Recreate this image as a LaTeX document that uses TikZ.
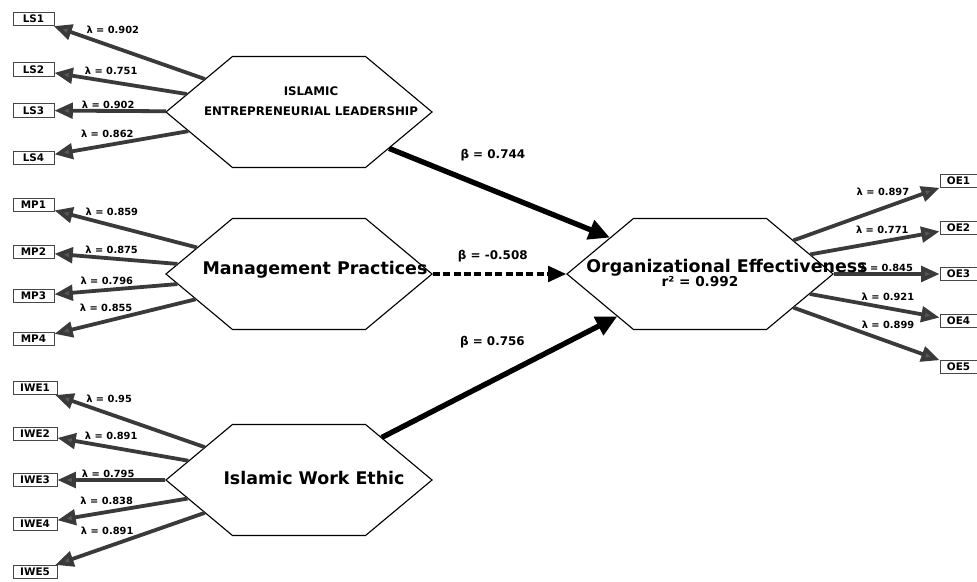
\documentclass[tikz,border=0pt]{standalone}
\usepackage{fontspec}
\setmainfont{DejaVu Sans}
\usepackage{tikz}
\usetikzlibrary{shapes.geometric, arrows.meta}

\definecolor{loadline}{RGB}{58,58,58}
\definecolor{loadtip}{RGB}{88,88,88}
\definecolor{boxline}{RGB}{70,70,70}

\tikzset{
  construct/.style = {
    regular polygon, regular polygon sides=6, draw=black, line width=0.8pt, fill=white,
    minimum size=6.65cm, inner sep=0pt, yscale=0.4819, transform shape
  },
  ctitle/.style = {font=\fontsize{12.4}{14}\selectfont\bfseries, inner sep=0pt},
  indicator/.style = {
    rectangle, draw=boxline, line width=0.7pt, fill=white,
    minimum width=1.025cm, minimum height=0.33cm, inner sep=1pt,
    font=\fontsize{7.4}{8}\selectfont\bfseries
  },
  lam/.style = {font=\fontsize{7}{8}\selectfont\bfseries, inner sep=0.5pt},
  beta/.style = {font=\fontsize{8.5}{10}\selectfont\bfseries, inner sep=0pt},
  loading/.style = {-{Triangle[length=13pt, width=11pt, fill=loadtip]}, draw=loadline, line width=2.7pt},
  effect/.style = {-{Triangle[length=15pt, width=14pt]}, line width=3.8pt},
  weakeffect/.style = {-{Triangle[length=13pt, width=11pt]}, line width=2.6pt, dash pattern=on 5pt off 2.4pt}
}

\begin{document}
\begin{tikzpicture}[x=0.025cm, y=-0.025cm]
  \useasboundingbox (0,0) rectangle (977,582);

  % Constructs
  \node[construct] (ile) at (299,112) {};
  \node[construct] (mp)  at (299,274) {};
  \node[construct] (iwe) at (299,480) {};
  \node[construct] (oe)  at (700,274) {};

  % Indicators
  \node[indicator] (ls1) at (33.5,19)  {LS1};
  \node[indicator] (ls2) at (33.5,69.5) {LS2};
  \node[indicator] (ls3) at (33.5,110.5) {LS3};
  \node[indicator] (ls4) at (33.5,158) {LS4};

  \node[indicator] (mp1) at (33.5,205) {MP1};
  \node[indicator] (mp2) at (33.5,252) {MP2};
  \node[indicator] (mp3) at (33.5,296) {MP3};
  \node[indicator] (mp4) at (33.5,339) {MP4};

  \node[indicator, minimum width=1.1cm] (iwe1) at (35,388) {IWE1};
  \node[indicator, minimum width=1.1cm] (iwe2) at (35,434) {IWE2};
  \node[indicator, minimum width=1.1cm] (iwe3) at (35,480) {IWE3};
  \node[indicator, minimum width=1.1cm] (iwe4) at (35,524) {IWE4};
  \node[indicator, minimum width=1.1cm] (iwe5) at (35,572) {IWE5};

  \node[indicator, minimum width=0.925cm] (oe1) at (958.5,181) {OE1};
  \node[indicator, minimum width=0.925cm] (oe2) at (958.5,228) {OE2};
  \node[indicator, minimum width=0.925cm] (oe3) at (958.5,274) {OE3};
  \node[indicator, minimum width=0.925cm] (oe4) at (958.5,321) {OE4};
  \node[indicator, minimum width=0.925cm] (oe5) at (958.5,367) {OE5};

  % Outer loadings
  \draw[loading] (ile) -- node[lam, pos=.80, anchor=south west] {λ = 0.902} (ls1);
  \draw[loading] (ile) -- node[lam, pos=.79, anchor=south west] {λ = 0.751} (ls2);
  \draw[loading] (ile) -- node[lam, pos=.52, anchor=south] {λ = 0.902} (ls3);
  \draw[loading] (ile) -- node[lam, pos=.39, anchor=south east] {λ = 0.862} (ls4);

  \draw[loading] (mp) -- node[lam, pos=.80, anchor=south west] {λ = 0.859} (mp1);
  \draw[loading] (mp) -- node[lam, pos=.77, anchor=south west] {λ = 0.875} (mp2);
  \draw[loading] (mp) -- node[lam, pos=.34, anchor=south east] {λ = 0.796} (mp3);
  \draw[loading] (mp) -- node[lam, pos=.43, anchor=south east] {λ = 0.855} (mp4);

  \draw[loading] (iwe) -- node[lam, pos=.81, anchor=south west] {λ = 0.95} (iwe1);
  \draw[loading] (iwe) -- node[lam, pos=.81, anchor=south west] {λ = 0.891} (iwe2);
  \draw[loading] (iwe) -- node[lam, pos=.53, anchor=south] {λ = 0.795} (iwe3);
  \draw[loading] (iwe) -- node[lam, pos=.40, anchor=south east] {λ = 0.838} (iwe4);
  \draw[loading] (iwe) -- node[lam, pos=.46, anchor=south east] {λ = 0.891} (iwe5);

  \draw[loading] (oe) -- node[lam, pos=.81, anchor=south east] {λ = 0.897} (oe1);
  \draw[loading] (oe) -- node[lam, pos=.78, anchor=south east] {λ = 0.771} (oe2);
  \draw[loading] (oe) -- node[lam, pos=.50, anchor=south] {λ = 0.845} (oe3);
  \draw[loading] (oe) -- node[lam, pos=.38, anchor=south west] {λ = 0.921} (oe4);
  \draw[loading] (oe) -- node[lam, pos=.45, anchor=south west] {λ = 0.899} (oe5);

  % Paths
  \draw[effect] (ile) -- node[beta, pos=.47, above=19pt] {β = 0.744} (oe);
  \draw[weakeffect] (mp) -- node[beta, pos=.45, above=7pt] {β = -0.508} (oe);
  \draw[effect] (iwe) -- node[beta, pos=.47, above=21pt] {β = 0.756} (oe);

  % Construct names
  \node[ctitle, align=center, font=\fontsize{8.4}{14}\selectfont\bfseries] (ile-t) at (311,101) {ISLAMIC\\ENTREPRENEURIAL LEADERSHIP};
  \node[ctitle, anchor=base] (mp-t) at (315,275) {Management Practices};
  \node[ctitle, anchor=base] (iwe-t) at (314,484) {Islamic Work Ethic};
  \node[ctitle, anchor=base] (oe-t) at (727,273) {Organizational Effectiveness};
  \node[ctitle, anchor=base, font=\fontsize{9.7}{11}\selectfont\bfseries] (oe-r) at (700,287) {r² = 0.992};
\end{tikzpicture}
\end{document}
